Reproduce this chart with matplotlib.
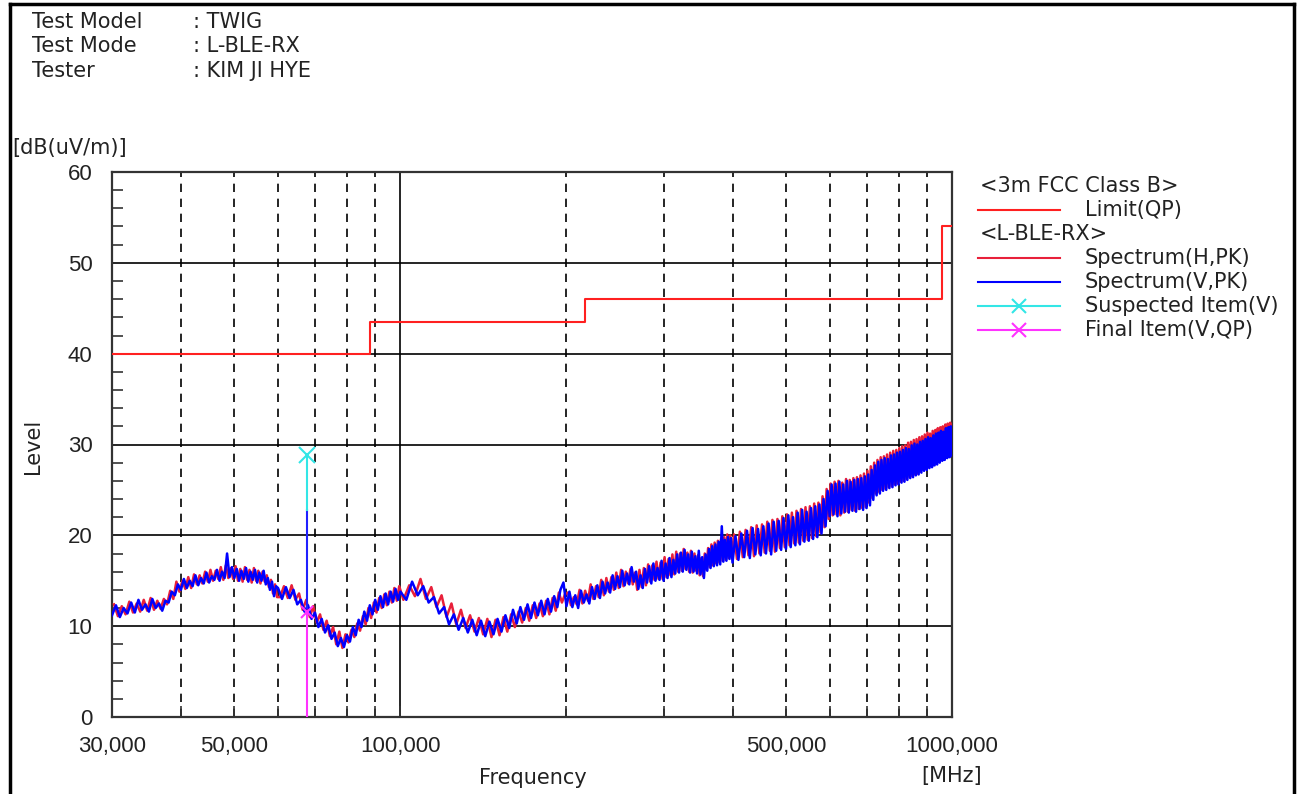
import numpy as np
import matplotlib
matplotlib.use('Agg')
import matplotlib.pyplot as plt
from matplotlib.ticker import FixedLocator, NullFormatter
from matplotlib.lines import Line2D

plt.rcParams['font.family'] = ['DejaVu Sans']

# header info
header_keys = ['Test Model', 'Test Mode', 'Tester']
header_vals = [': TWIG', ': L-BLE-RX', ': KIM JI HYE']

# limit line (3m FCC Class B, QP)
limit_freq = [30, 88, 88, 216, 216, 960, 960, 1000]
limit_level = [40, 40, 43.5, 43.5, 46, 46, 54, 54]

# sweep frequencies [MHz]
freq_v = np.concatenate([
    np.arange(30, 60, 0.5),
    np.arange(60, 100, 1.0),
    np.arange(100, 200, 2.5),
    np.arange(200, 400, 2.5),
    np.arange(400, 1001, 5.0),
])
freq_h = np.concatenate([
    np.arange(30.25, 60, 0.5),
    np.arange(60.5, 100, 1.0),
    np.arange(101.25, 200, 2.5),
    np.arange(201.25, 400, 2.5),
    np.arange(402.5, 1000, 5.0),
])

spec_v = [
    # 30 - 59.5
    11.2, 12.3, 11.0, 12.0, 11.4, 12.6, 11.5, 12.9, 11.8, 12.4,
    11.6, 13.0, 12.0, 12.5, 11.7, 12.8, 12.6, 13.8, 13.4, 14.6,
    14.0, 15.2, 14.2, 15.0, 14.4, 15.6, 14.5, 15.3, 14.7, 15.9,
    14.8, 15.5, 15.1, 16.2, 15.0, 16.0, 15.3, 18.0, 15.4, 16.5,
    15.3, 16.3, 15.0, 16.1, 15.2, 16.4, 14.9, 16.0, 15.1, 16.2,
    14.8, 15.9, 15.0, 16.1, 14.6, 15.3, 14.0, 14.9, 13.3, 14.4,
    # 60 - 99
    14.2, 13.0, 14.3, 13.1, 14.0, 12.4, 12.9, 11.6, 12.3, 10.8,
    11.5, 9.9, 10.8, 9.3, 10.1, 8.6, 9.3, 7.8, 8.7, 7.7,
    9.0, 8.3, 9.9, 9.0, 10.7, 9.9, 11.6, 10.6, 12.3, 11.3,
    12.9, 11.8, 13.3, 12.1, 13.6, 12.4, 13.8, 12.7, 14.1, 12.9,
    # 100 - 197.5
    13.8, 12.9, 14.9, 13.4, 14.4, 12.6, 13.2, 11.4, 12.1, 10.2,
    11.3, 9.6, 10.9, 9.3, 10.7, 9.0, 10.6, 8.9, 10.5, 9.1,
    10.8, 9.4, 11.2, 9.8, 11.8, 10.3, 12.1, 10.7, 12.4, 10.9,
    12.6, 11.2, 12.8, 11.3, 13.0, 11.6, 13.3, 12.1, 14.0, 14.8,
    # 200 - 397.5
    12.2, 13.8, 12.1, 13.4, 12.0, 13.9, 12.6, 13.5, 12.5, 14.3,
    13.0, 14.5, 13.1, 14.9, 13.6, 14.8, 13.7, 15.6, 14.1, 15.5,
    14.3, 16.1, 14.5, 15.8, 14.6, 16.5, 14.9, 16.0, 14.1, 15.6,
    14.2, 16.3, 14.8, 16.6, 14.7, 16.9, 15.0, 16.4, 15.1, 17.2,
    15.0, 16.9, 15.3, 17.5, 15.4, 17.3, 15.8, 17.9, 15.9, 18.1,
    16.0, 18.4, 16.2, 17.9, 15.9, 18.2, 16.0, 17.7, 15.8, 18.3,
    15.7, 17.6, 15.3, 17.9, 16.1, 18.5, 16.4, 18.8, 16.6, 19.0,
    16.7, 19.3, 16.8, 21.0, 17.1, 19.5, 17.2, 19.8, 17.4, 19.7,
    # 400 - 1000
    17.0, 19.9, 17.3, 20.2, 17.6, 20.5, 17.5, 20.8, 17.9, 20.7,
    17.8, 21.0, 18.0, 21.3, 17.9, 21.5, 18.3, 21.6, 18.4, 21.9,
    18.5, 22.2, 18.7, 22.0, 18.9, 22.5, 19.0, 22.8, 19.3, 22.6,
    19.4, 23.0, 19.6, 23.2, 19.8, 23.4, 20.2, 24.0, 21.0, 24.9,
    22.1, 25.6, 22.3, 25.7, 22.1, 25.9, 22.4, 25.6, 22.6, 26.0,
    22.5, 25.9, 22.7, 26.1, 22.6, 26.2, 22.9, 26.3, 22.8, 26.5,
    23.0, 26.7, 23.3, 27.2, 23.9, 27.7, 24.4, 28.1, 24.6, 28.3,
    24.9, 28.5, 25.0, 28.4, 25.2, 28.8, 25.3, 28.9, 25.5, 29.1,
    25.6, 29.2, 25.8, 29.4, 25.9, 29.6, 26.1, 29.5, 26.3, 29.9,
    26.4, 30.1, 26.6, 30.0, 26.7, 30.3, 26.9, 30.4, 27.1, 30.6,
    27.2, 30.8, 27.4, 30.7, 27.5, 31.0, 27.7, 31.2, 27.8, 31.3,
    28.0, 31.5, 28.2, 31.4, 28.3, 31.8, 28.5, 31.9, 28.6, 32.0,
    28.8,
]

spec_h = [
    # 30 - 59.75
    12.4, 11.1, 12.2, 11.3, 12.7, 11.5, 12.5, 11.6, 12.9, 11.7,
    13.1, 11.8, 12.8, 11.9, 13.0, 12.4, 13.9, 13.0, 14.9, 13.8,
    15.0, 14.1, 15.4, 14.2, 15.7, 14.6, 15.6, 14.7, 16.0, 14.9,
    16.2, 15.0, 16.1, 15.2, 16.5, 15.1, 16.7, 15.3, 16.4, 15.2,
    16.6, 15.0, 16.3, 14.9, 16.5, 15.1, 16.2, 14.8, 16.4, 15.0,
    16.1, 14.7, 16.0, 14.9, 15.6, 14.3, 15.1, 13.6, 14.6, 13.2,
    # 60.5 - 99.5
    13.2, 14.4, 13.1, 14.5, 12.9, 13.6, 11.8, 12.9, 11.0, 12.2,
    10.4, 11.3, 9.6, 10.6, 8.9, 9.9, 8.0, 9.4, 7.6, 9.1,
    8.2, 9.6, 8.8, 10.3, 9.5, 11.1, 10.2, 12.0, 10.9, 12.6,
    11.5, 13.1, 12.0, 13.5, 12.3, 13.8, 12.6, 14.2, 12.8, 14.4,
    # 101.25 - 198.75
    12.9, 14.5, 13.3, 15.2, 13.0, 14.3, 12.1, 13.4, 11.0, 12.5,
    10.2, 11.8, 9.8, 11.2, 9.4, 10.9, 9.1, 10.8, 8.8, 10.7,
    9.0, 11.0, 9.4, 11.3, 9.9, 11.6, 10.4, 12.0, 10.6, 12.3,
    10.9, 12.5, 11.1, 12.8, 11.3, 13.1, 11.7, 13.7, 12.6, 13.5,
    # 201.25 - 398.75
    13.7, 12.3, 13.2, 12.4, 14.0, 12.5, 13.9, 12.8, 14.6, 13.0,
    14.4, 13.2, 15.1, 13.4, 15.3, 13.8, 15.4, 14.0, 15.9, 14.2,
    16.2, 14.4, 16.0, 14.7, 16.3, 14.6, 15.9, 14.0, 16.2, 14.3,
    16.4, 14.5, 16.8, 14.9, 16.7, 15.1, 17.1, 15.2, 17.0, 15.2,
    17.6, 15.4, 17.4, 15.6, 17.9, 15.7, 18.2, 16.0, 18.0, 16.1,
    18.5, 16.3, 18.1, 16.0, 18.3, 15.9, 18.0, 16.1, 17.8, 15.6,
    17.5, 15.5, 18.0, 16.2, 18.6, 16.5, 19.0, 16.7, 19.2, 16.9,
    19.4, 17.0, 19.6, 17.2, 19.8, 17.3, 20.1, 17.5, 20.0, 17.6,
    # 402.5 - 997.5
    20.1, 17.4, 20.4, 17.6, 20.6, 17.8, 20.9, 17.7, 21.1, 18.0,
    21.2, 18.1, 21.5, 18.3, 21.7, 18.2, 21.8, 18.6, 22.1, 18.7,
    22.3, 18.9, 22.5, 19.1, 22.7, 19.2, 22.9, 19.4, 23.1, 19.5,
    23.2, 19.7, 23.5, 19.9, 23.6, 20.3, 24.3, 20.9, 25.1, 21.8,
    25.7, 22.2, 25.9, 22.3, 26.0, 22.2, 25.8, 22.5, 26.2, 22.6,
    26.1, 22.8, 26.3, 22.7, 26.4, 22.9, 26.6, 23.0, 26.8, 23.1,
    27.1, 23.6, 27.6, 24.1, 28.0, 24.6, 28.3, 24.8, 28.6, 25.0,
    28.7, 25.1, 28.9, 25.3, 29.1, 25.4, 29.3, 25.6, 29.4, 25.7,
    29.6, 25.9, 29.8, 26.0, 29.9, 26.2, 30.2, 26.4, 30.3, 26.5,
    30.5, 26.7, 30.6, 26.8, 30.8, 27.0, 30.9, 27.2, 31.1, 27.3,
    31.3, 27.5, 31.2, 27.6, 31.5, 27.8, 31.6, 27.9, 31.8, 28.1,
    31.9, 28.3, 32.0, 28.4, 32.2, 28.6, 32.3, 28.7, 32.4, 28.9,
]

# spike / items at ~67.6 MHz
item_freq = 67.6
spike_base = 12.0
spike_top = 22.8
suspect_level = 28.8
final_level = 11.6

xtick_vals = [30, 50, 100, 500, 1000]
xtick_labels = ['30,000', '50,000', '100,000', '500,000', '1000,000']
dashed_x = [40, 50, 60, 70, 80, 90, 200, 300, 400, 500, 600, 700, 800, 900]

n = min(len(freq_v), len(spec_v))
m = min(len(freq_h), len(spec_h))

W, H = 1301, 794
fig = plt.figure(figsize=(W / 100, H / 100), dpi=100)
ax = fig.add_axes([112 / W, 77 / H, 840 / W, 545 / H])

# outer frame
fig.add_artist(Line2D([10 / W, 10 / W], [0, 1 - 4 / H], transform=fig.transFigure, color='black', lw=2.5))
fig.add_artist(Line2D([10 / W, 1294 / W], [1 - 4 / H, 1 - 4 / H], transform=fig.transFigure, color='black', lw=2.5))
fig.add_artist(Line2D([1294 / W, 1294 / W], [0, 1 - 4 / H], transform=fig.transFigure, color='black', lw=2.5))

ax.set_xscale('log')
ax.set_xlim(30, 1000)
ax.set_ylim(0, 60)

# grid
for y in [10, 20, 30, 40, 50]:
    ax.axhline(y, color='black', lw=1.2, zorder=1)
ax.axvline(100, color='black', lw=1.2, zorder=1)
for x in dashed_x:
    ax.axvline(x, color='black', lw=1.2, ls=(0, (5, 4)), zorder=1)

# spectra
ax.plot(freq_h[:m], spec_h[:m], color='#e8203a', lw=1.8, zorder=3)
ax.plot(freq_v[:n], spec_v[:n], color='#0000ff', lw=1.8, zorder=4)

# limit
ax.plot(limit_freq, limit_level, color='#ff2020', lw=1.5, zorder=5)

# items
ax.plot([item_freq, item_freq], [spike_base, spike_top], color='#2020ff', lw=1.5, zorder=5)
ax.plot([item_freq, item_freq], [spike_top, suspect_level], color='#33e6e6', lw=1.5, zorder=5)
ax.plot([item_freq], [suspect_level], marker='x', color='#33e6e6', ms=11, mew=1.5, zorder=6)
ax.plot([item_freq, item_freq], [0, final_level], color='#ff33ff', lw=1.5, zorder=5)
ax.plot([item_freq], [final_level], marker='x', color='#ff33ff', ms=9, mew=1.5, zorder=6)

# axes ticks
ax.xaxis.set_major_locator(FixedLocator(xtick_vals))
ax.xaxis.set_minor_locator(FixedLocator([40, 60, 70, 80, 90, 200, 300, 400, 600, 700, 800, 900]))
ax.xaxis.set_minor_formatter(NullFormatter())
ax.set_xticklabels(xtick_labels, family='Liberation Sans')
ax.yaxis.set_major_locator(FixedLocator([0, 10, 20, 30, 40, 50, 60]))
ax.set_yticklabels(['0', '10', '20', '30', '40', '50', '60'], family='Liberation Sans')
ax.yaxis.set_minor_locator(FixedLocator([v for v in range(2, 60, 2) if v % 10]))
ax.tick_params(axis='both', which='both', direction='in', colors='#333333', labelcolor='#222222')
ax.tick_params(axis='y', which='minor', length=8, width=1.2)
ax.tick_params(axis='y', which='major', length=0, labelsize=16, pad=14)
ax.tick_params(axis='x', which='both', length=8, width=1.2, labelsize=16, pad=14)
for s in ax.spines.values():
    s.set_color('#333333')
    s.set_linewidth(1.6)

# labels
fs = 15
fig.text(533 / W, 1 - 778 / H, 'Frequency', ha='center', va='center', fontsize=fs, color='#222222')
fig.text(952 / W, 1 - 776 / H, '[MHz]', ha='center', va='center', fontsize=fs, color='#222222')
fig.text(33 / W, 1 - 446 / H, 'Level', ha='center', va='center', rotation=90, fontsize=fs, color='#222222')
fig.text(12 / W, 1 - 148 / H, '[dB(uV/m)]', ha='left', va='center', fontsize=fs, color='#222222')

for i, (k, v) in enumerate(zip(header_keys, header_vals)):
    yy = 1 - (22 + 24.5 * i) / H
    fig.text(32 / W, yy, k, ha='left', va='center', fontsize=fs, color='#222222')
    fig.text(193 / W, yy, v, ha='left', va='center', fontsize=fs, color='#222222')

# legend
leg_rows = [
    ('<3m FCC Class B>', None, None),
    ('Limit(QP)', '#ff2020', None),
    ('<L-BLE-RX>', None, None),
    ('Spectrum(H,PK)', '#e8203a', None),
    ('Spectrum(V,PK)', '#0000ff', None),
    ('Suspected Item(V)', '#33e6e6', 'x'),
    ('Final Item(V,QP)', '#ff33ff', 'x'),
]
for i, (txt, col, mk) in enumerate(leg_rows):
    yy = 1 - (186 + 24 * i) / H
    if col is None:
        fig.text(980 / W, yy, txt, ha='left', va='center', fontsize=fs, color='#222222')
    else:
        fig.add_artist(Line2D([978 / W, 1060 / W], [yy, yy], transform=fig.transFigure, color=col, lw=1.5))
        if mk:
            fig.add_artist(Line2D([1019 / W], [yy], transform=fig.transFigure, color=col, marker=mk,
                                  ms=10, mew=1.5))
        fig.text(1085 / W, yy, txt, ha='left', va='center', fontsize=fs, color='#222222')

fig.savefig('out.png', dpi=100)
